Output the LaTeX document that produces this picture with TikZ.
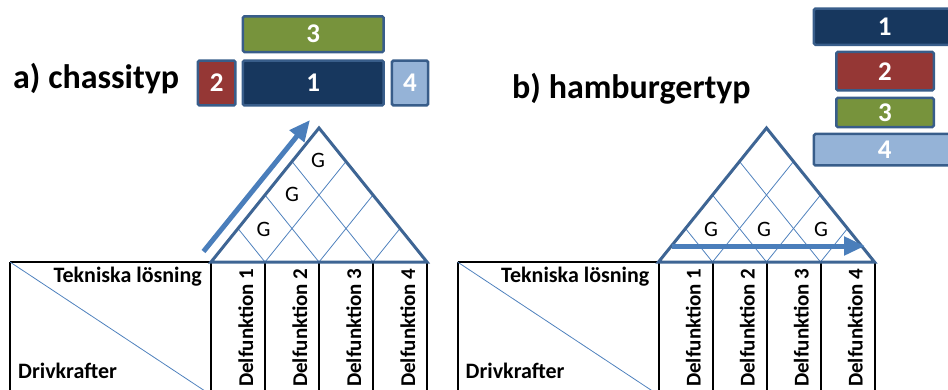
\documentclass[tikz,border=0pt]{standalone}
\usepackage{fontspec}
\setmainfont{Carlito}
\usetikzlibrary{arrows.meta,calc}

\definecolor{navyfill}{HTML}{17375E}
\definecolor{redfill}{HTML}{953735}
\definecolor{greenfill}{HTML}{77933C}
\definecolor{lightfill}{HTML}{95B3D7}
\definecolor{edgeblue}{HTML}{385D8A}
\definecolor{roofblue}{HTML}{3E6594}
\definecolor{gridblue}{HTML}{4F81BD}
\definecolor{flowblue}{HTML}{4A7EBB}

\tikzset{
  tabline/.style={line width=2pt, black},
  roofline/.style={draw=roofblue, line width=3pt, line join=miter},
  gridline/.style={draw=gridblue, line width=0.8pt},
  flow/.style={draw=flowblue, line width=5pt, -{Triangle[length=21pt,width=18pt]}},
  block/.style={draw=edgeblue, line width=2.5pt, rounded corners=1.5pt, inner sep=0pt,
    text=white, font=\fontsize{27}{31}\selectfont\bfseries},
  head/.style={font=\fontsize{22}{26}\selectfont\bfseries, inner sep=0pt},
  title/.style={font=\fontsize{34}{39}\selectfont\bfseries, inner sep=0pt, anchor=base west},
  gmark/.style={font=\fontsize{22}{26}\selectfont, inner sep=0pt},
  colhead/.style={font=\fontsize{21}{25}\selectfont\bfseries, inner sep=0pt,
    rotate=90, anchor=base west},
}

\begin{document}
\begin{tikzpicture}[x=1pt,y=-1pt]
\useasboundingbox (0,0) rectangle (948,389);
\clip (0,0) rectangle (948,389);

% two identical matrices with a roof of correlations
\foreach \p/\dx in {a/0, b/447.5}{
  \begin{scope}[xshift=\dx pt, name prefix=\p-]
    \coordinate (TL) at (10,262);
    \coordinate (BL) at (10,395);
    \coordinate (L) at (211,262);
    \coordinate (R) at (427,262);
    \coordinate (T) at (319,128);
    \foreach \i in {0,...,4}{
      \coordinate (c\i) at ({211+54*\i},262);
      \coordinate (d\i) at ({211+54*\i},395);
    }
    % table frame
    \draw[tabline] (TL) -- (L);
    \draw[tabline] (TL) -- (BL);
    \foreach \i in {0,...,4}{ \draw[tabline] (c\i) -- (d\i); }
    \draw[gridline] (TL) -- (d0);
    % roof grid
    \foreach \i in {1,2,3}{
      \draw[gridline] (c\i) -- ($(R)!{(4-\i)/4}!(T)$);
      \draw[gridline] (c\i) -- ($(L)!{\i/4}!(T)$);
    }
    \draw[roofline] (L) -- (T) -- (R) -- cycle;
    % headings
    \node[head, anchor=base east] (tek) at (202,282) {Tekniska lösning};
    \node[head, anchor=base west] (driv) at (18,378) {Drivkrafter};
    \foreach \i in {1,...,4}{
      \node[colhead] (f\i) at ({211+54*\i-12},387) {Delfunktion \i};
    }
  \end{scope}
}

% a) chassis type
\node[title] (ta) at (13,88) {a) chassityp};
\node[block, fill=greenfill, minimum width=140.8pt, minimum height=35.8pt] (a3) at (313.3,34.2) {3};
\node[block, fill=redfill, minimum width=37.5pt, minimum height=44.9pt] (a2) at (216.7,83) {2};
\node[block, fill=navyfill, minimum width=140.8pt, minimum height=44.9pt] (a1) at (313.3,83) {1};
\node[block, fill=lightfill, minimum width=36.1pt, minimum height=44.9pt] (a4) at (410,83) {4};
\node[gmark] (ag1) at (263.5,229) {G};
\node[gmark] (ag2) at (292,194) {G};
\node[gmark] (ag3) at (318,160) {G};
\coordinate (afrom) at (203.5,251.5);
\coordinate (ato) at (310,120);
\draw[flow] (afrom) -- (ato);

% b) hamburger type
\node[title] (tb) at (512,98) {b) hamburgertyp};
\node[block, fill=navyfill, minimum width=141.8pt, minimum height=36.2pt] (b1) at (884.8,26.7) {1};
\node[block, fill=redfill, minimum width=97.5pt, minimum height=38.5pt] (b2) at (885,71.2) {2};
\node[block, fill=greenfill, minimum width=97.5pt, minimum height=29.1pt] (b3) at (885,112.5) {3};
\node[block, fill=lightfill, minimum width=141.8pt, minimum height=31.5pt] (b4) at (884.8,149.7) {4};
\node[gmark] (bg1) at (711,229) {G};
\node[gmark] (bg2) at (764,229) {G};
\node[gmark] (bg3) at (821,229) {G};
\coordinate (bfrom) at (671.5,246);
\coordinate (bto) at (865,246);
\draw[flow] (bfrom) -- (bto);
\end{tikzpicture}
\end{document}
